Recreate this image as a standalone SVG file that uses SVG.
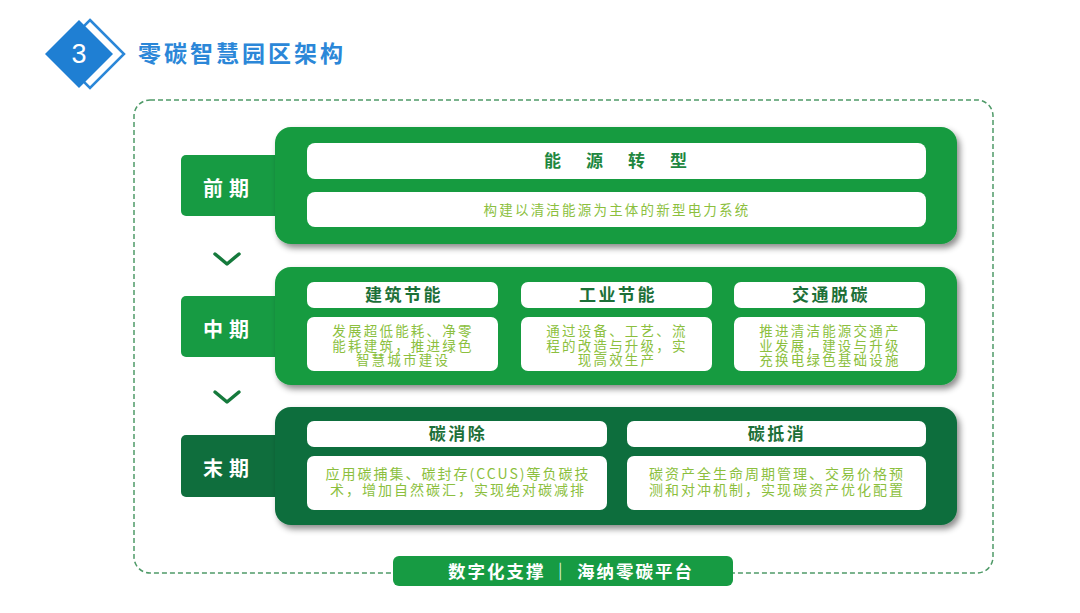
<svg xmlns="http://www.w3.org/2000/svg" width="1080" height="613" viewBox="0 0 1080 613">
  <defs>
    <filter id="sh" x="-5%" y="-10%" width="112%" height="130%">
      <feDropShadow dx="3" dy="4" stdDeviation="3" flood-color="#000" flood-opacity="0.45"/>
    </filter>
    <style>
      .panel1{fill:#179b3f}
      .panel2{fill:#0f6e3d}
      .label1{fill:#179b43}
      .label2{fill:#0f6e3d}
      .box{fill:#ffffff}
      .lbl{font-family:"Noto Sans CJK SC","Noto Sans",sans-serif;font-weight:700;font-size:20px;fill:#ffffff;text-anchor:middle;letter-spacing:6px}
      .hd{font-family:"Noto Sans CJK SC","Noto Sans",sans-serif;font-weight:700;font-size:17px;fill:#1c6f38;text-anchor:middle;letter-spacing:2.5px}
      .bd{font-family:"Noto Sans CJK SC","Noto Sans",sans-serif;font-size:13.5px;fill:#8cbf3e;text-anchor:middle;letter-spacing:2.2px}
      .bd3{font-family:"Noto Sans CJK SC","Noto Sans",sans-serif;font-size:14px;fill:#8cbf3e;text-anchor:middle;letter-spacing:2px}
      .chev{fill:none;stroke:#157a3c;stroke-width:3.5;stroke-linecap:round;stroke-linejoin:round}
    </style>
  </defs>
  <rect width="1080" height="613" fill="#ffffff"/>

  <g id="title">
    <polygon points="90,20 124,54 90,88 56,54" fill="#ffffff" stroke="#2b87d8" stroke-width="2.5"/>
    <polygon points="79,20 113,54 79,88 45,54" fill="#1f7fd3"/>
    <text x="79" y="63" font-family="Liberation Sans,Arial,sans-serif" font-size="27" fill="#ffffff" text-anchor="middle">3</text>
    <text x="138" y="62" font-family="Noto Sans CJK SC,sans-serif" font-weight="700" font-size="23" fill="#2b87d8" letter-spacing="3">零碳智慧园区架构</text>
  </g>

  <g id="frame">
    <rect x="134" y="100" width="859" height="473" rx="16" fill="none" stroke="#4f9a68" stroke-width="1.5" stroke-dasharray="5 3"/>
  </g>

  <g id="connectors">
    <polyline class="chev" points="215,254 227,264 239,254"/>
    <polyline class="chev" points="215,392 227,402 239,392"/>
  </g>

  <g id="stage1">
    <rect class="label1" x="181" y="155" width="100" height="61" rx="5"/>
    <rect class="panel1" x="275" y="127" width="682" height="117" rx="16" filter="url(#sh)"/>
    <text class="lbl" x="229" y="196">前期</text>
    <rect class="box" x="307" y="143" width="619" height="36" rx="8"/>
    <text class="hd" x="628" y="167" style="fill:#1e8740;letter-spacing:25px;font-size:17px">能源转型</text>
    <rect class="box" x="307" y="192" width="619" height="35" rx="8"/>
    <text class="bd" x="617" y="215">构建以清洁能源为主体的新型电力系统</text>
  </g>

  <g id="stage2">
    <rect class="label1" x="181" y="296" width="100" height="61" rx="5"/>
    <rect class="panel1" x="275" y="267" width="682" height="118" rx="16" filter="url(#sh)"/>
    <text class="lbl" x="229" y="337">中期</text>
    <g id="building">
      <rect class="box" x="307" y="282" width="191" height="26" rx="7"/>
      <text class="hd" x="404" y="301">建筑节能</text>
      <rect class="box" x="307" y="317" width="191" height="54" rx="7"/>
      <text class="bd"><tspan x="403" y="336">发展超低能耗、净零</tspan><tspan x="403" y="350.5">能耗建筑，推进绿色</tspan><tspan x="403" y="365">智慧城市建设</tspan></text>
    </g>
    <g id="industry">
      <rect class="box" x="521" y="282" width="191" height="26" rx="7"/>
      <text class="hd" x="618" y="301">工业节能</text>
      <rect class="box" x="521" y="317" width="191" height="54" rx="7"/>
      <text class="bd"><tspan x="617" y="336">通过设备、工艺、流</tspan><tspan x="617" y="350.5">程的改造与升级，实</tspan><tspan x="617" y="365">现高效生产</tspan></text>
    </g>
    <g id="traffic">
      <rect class="box" x="734" y="282" width="191" height="26" rx="7"/>
      <text class="hd" x="831" y="301">交通脱碳</text>
      <rect class="box" x="734" y="317" width="191" height="54" rx="7"/>
      <text class="bd"><tspan x="830" y="336">推进清洁能源交通产</tspan><tspan x="830" y="350.5">业发展，建设与升级</tspan><tspan x="830" y="365">充换电绿色基础设施</tspan></text>
    </g>
  </g>

  <g id="stage3">
    <rect class="label2" x="181" y="435" width="100" height="62" rx="5"/>
    <rect class="panel2" x="275" y="407" width="682" height="118" rx="16" filter="url(#sh)"/>
    <text class="lbl" x="229" y="476">末期</text>
    <g id="removal">
      <rect class="box" x="307" y="421" width="300" height="26" rx="7"/>
      <text class="hd" x="458" y="440">碳消除</text>
      <rect class="box" x="307" y="456" width="300" height="54" rx="7"/>
      <text class="bd3"><tspan x="458" y="479">应用碳捕集、碳封存(CCUS)等负碳技</tspan><tspan x="458" y="494.5">术，增加自然碳汇，实现绝对碳减排</tspan></text>
    </g>
    <g id="offset">
      <rect class="box" x="627" y="421" width="299" height="26" rx="7"/>
      <text class="hd" x="777" y="440">碳抵消</text>
      <rect class="box" x="627" y="456" width="299" height="54" rx="7"/>
      <text class="bd3"><tspan x="777" y="479">碳资产全生命周期管理、交易价格预</tspan><tspan x="777" y="494.5">测和对冲机制，实现碳资产优化配置</tspan></text>
    </g>
  </g>

  <g id="platform">
    <rect x="393" y="556" width="340" height="30" rx="6" fill="#179b43"/>
    <text x="571" y="578" font-family="Noto Sans CJK SC,sans-serif" font-weight="700" font-size="17.5" fill="#ffffff" text-anchor="middle" letter-spacing="2" xml:space="preserve">数字化支撑 ｜ 海纳零碳平台</text>
  </g>
</svg>
